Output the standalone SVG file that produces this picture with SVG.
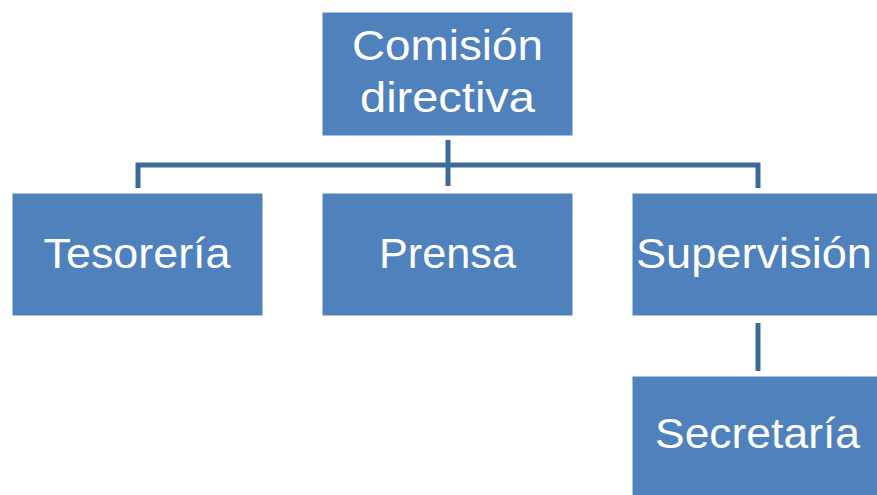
<svg xmlns="http://www.w3.org/2000/svg" width="877" height="495" viewBox="0 0 877 495">
<style>
.box{fill:#4F81BD;stroke:#ffffff;stroke-width:1}
.lbl{fill:#ffffff;font-family:"Liberation Sans","Open Sans",sans-serif;font-size:42px;text-anchor:middle}
.con{fill:none;stroke:#3E6A99;stroke-width:5}
</style>
<rect width="877" height="495" fill="#ffffff"/>
<g id="connectors">
<line class="con" x1="448" y1="140" x2="448" y2="186"/>
<polyline class="con" points="138,188 138,165 758,165 758,188"/>
<line class="con" x1="758" y1="323" x2="758" y2="371"/>
</g>
<g id="comision">
<rect class="box" x="322" y="12" width="251" height="124"/>
<text class="lbl" x="447.5" y="60" textLength="191" lengthAdjust="spacingAndGlyphs">Comisión</text>
<text class="lbl" x="447.5" y="112" textLength="175" lengthAdjust="spacingAndGlyphs">directiva</text>
</g>
<g id="tesoreria">
<rect class="box" x="12" y="193" width="251" height="123"/>
<text class="lbl" x="137" y="268" textLength="187" lengthAdjust="spacingAndGlyphs">Tesorería</text>
</g>
<g id="prensa">
<rect class="box" x="322" y="193" width="251" height="123"/>
<text class="lbl" x="447.5" y="268" textLength="137" lengthAdjust="spacingAndGlyphs">Prensa</text>
</g>
<g id="supervision">
<rect class="box" x="632" y="193" width="251" height="123"/>
<text class="lbl" x="754" y="268" textLength="236" lengthAdjust="spacingAndGlyphs">Supervisión</text>
</g>
<g id="secretaria">
<rect class="box" x="632" y="376" width="251" height="123"/>
<text class="lbl" x="757.5" y="448" textLength="205" lengthAdjust="spacingAndGlyphs">Secretaría</text>
</g>
</svg>
